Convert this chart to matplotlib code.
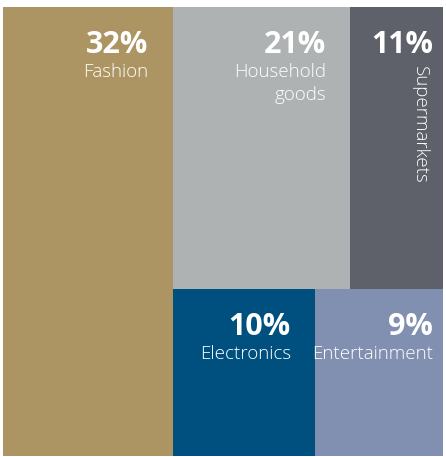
import matplotlib
matplotlib.use("Agg")
import matplotlib.pyplot as plt
from matplotlib.patches import Rectangle

# ---- data ----
categories = ["Fashion", "Household\ngoods", "Supermarkets", "Electronics", "Entertainment"]
shares = [32, 21, 11, 10, 9]
colors = ["#AD9563", "#AFB2B3", "#5E6169", "#00507F", "#818FB1"]

# ---- layout (slice: first item full-height column, rest in two rows) ----
W, H = 446, 457
x0, y0, x1, y1 = 3, 7, 443, 456
total = sum(shares)

rects = []
wf = (x1 - x0) * shares[0] / total
rects.append((x0, y0, wf, y1 - y0))
rest = total - shares[0]
rx = x0 + wf
rw = x1 - rx
rows = [[1, 2], [3, 4]]
cy = y0
for row in rows:
    rs = sum(shares[i] for i in row)
    rh = (y1 - y0) * rs / rest
    cx = rx
    for i in row:
        w = rw * shares[i] / rs
        rects.append((cx, cy, w, rh))
        cx += w
    cy += rh

fig = plt.figure(figsize=(W / 100, H / 100), dpi=100)
ax = fig.add_axes([0, 0, 1, 1])
ax.set_xlim(0, W)
ax.set_ylim(H, 0)
ax.axis("off")

fam = ["Open Sans", "DejaVu Sans"]
for i, (x, y, w, h) in enumerate(rects):
    ax.add_patch(Rectangle((x, y), w, h, facecolor=colors[i], edgecolor="none"))
    pad = 24 if w > 130 else 10
    tx = x + w - pad
    ax.text(tx, y + 46, f"{shares[i]}%", color="white", fontsize=22, fontweight="bold",
            family=fam, ha="right", va="baseline")
    if categories[i] == "Supermarkets":
        ax.text(x + w - 14, y + 59, categories[i], color="white", fontsize=13.5,
                fontweight="light", family=fam, rotation=-90, ha="right", va="top")
    else:
        for k, line in enumerate(categories[i].split("\n")):
            ax.text(tx, y + 70 + 23 * k, line, color="white", fontsize=13.5,
                    fontweight="light", family=fam, ha="right", va="baseline")

fig.savefig("out.png", dpi=100)
